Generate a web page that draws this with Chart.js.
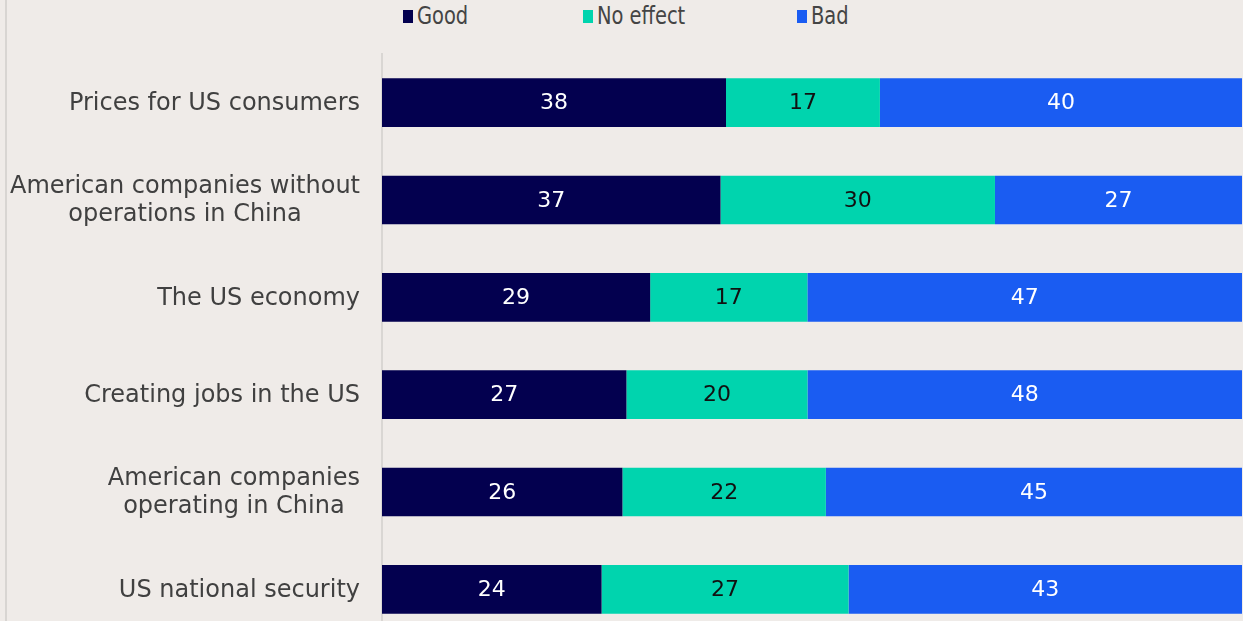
<!DOCTYPE html>
<html>
<head>
<meta charset="utf-8">
<script src="https://cdn.jsdelivr.net/npm/chart.js@4"></script>
<style>
  html, body { margin: 0; padding: 0; background: #efebe8; overflow: hidden; }
  #wrap { position: relative; width: 1243px; height: 638px; }
  #edge { position: absolute; left: 5px; top: 0; width: 2px; height: 638px; background: #d8d5d2; }
  #legend { position: absolute; top: 0; left: 0; width: 1243px; height: 32px; font-family: "Liberation Sans Narrow", "DejaVu Sans Condensed", sans-serif; font-size: 24px; color: #444444; }
  .item { position: absolute; top: 2px; white-space: nowrap; }
  .swatch { position: absolute; left: 0; top: 8px; width: 10px; height: 13px; }
  .name { position: absolute; left: 14px; top: 0; transform: scaleX(0.9); transform-origin: left center; }
  canvas { position: absolute; left: 0; top: 0; }
</style>
</head>
<body>
<div id="wrap">
  <div id="edge"></div>
  <div id="legend"></div>
  <canvas id="tariffChart" width="1243" height="638"></canvas>
</div>
<script>
const categories = [
  ["Prices for US consumers"],
  ["American companies without", "operations in China"],
  ["The US economy"],
  ["Creating jobs in the US"],
  ["American companies", "operating in China"],
  ["US national security"],
];
const good = [38, 37, 29, 27, 26, 24];
const noEffect = [17, 30, 17, 20, 22, 27];
const bad = [40, 27, 47, 48, 45, 43];

const seriesNames = ["Good", "No effect", "Bad"];
const seriesColors = ["#03004f", "#00d4ae", "#1a5cf2"];
const labelColors = ["#ffffff", "#111111", "#ffffff"];
const legendLeft = [403, 583, 797];

// each row is drawn as a share of its own total
const totals = good.map((g, i) => g + noEffect[i] + bad[i]);
const share = (arr) => arr.map((v, i) => (v / totals[i]) * 100);
const raw = [good, noEffect, bad];

const legend = document.getElementById("legend");
seriesNames.forEach((name, i) => {
  const el = document.createElement("div");
  el.className = "item";
  el.style.left = legendLeft[i] + "px";
  el.innerHTML = '<span class="swatch" style="background:' + seriesColors[i] + '"></span><span class="name">' + name + "</span>";
  legend.appendChild(el);
});

const VALUE_FONT = '22px "DejaVu Sans", sans-serif';
const CAT_FONT = '24px "DejaVu Sans", sans-serif';

// values written in the middle of each segment
const valueLabels = {
  id: "valueLabels",
  afterDatasetsDraw(chart) {
    const ctx = chart.ctx;
    ctx.save();
    ctx.font = VALUE_FONT;
    ctx.textAlign = "center";
    ctx.textBaseline = "middle";
    chart.data.datasets.forEach((ds, di) => {
      chart.getDatasetMeta(di).data.forEach((bar, i) => {
        const p = bar.getProps(["x", "y", "base"], true);
        ctx.fillStyle = labelColors[di];
        ctx.fillText(String(raw[di][i]), (p.x + p.base) / 2, p.y + 1);
      });
    });
    ctx.restore();
  },
};

// category names: block right-aligned, lines centred on each other
const categoryLabels = {
  id: "categoryLabels",
  afterDraw(chart) {
    const ctx = chart.ctx;
    const y = chart.scales.y;
    const right = y.right - 22;
    ctx.save();
    ctx.font = CAT_FONT;
    ctx.fillStyle = "#404040";
    ctx.textAlign = "center";
    ctx.textBaseline = "middle";
    categories.forEach((lines, i) => {
      const w = Math.max(...lines.map((l) => ctx.measureText(l).width));
      const cx = right - w / 2;
      const cy = y.getPixelForTick(i) + 1;
      const lh = 28;
      lines.forEach((l, k) => {
        ctx.fillText(l, cx, cy + (k - (lines.length - 1) / 2) * lh);
      });
    });
    ctx.restore();
  },
};

new Chart(document.getElementById("tariffChart"), {
  type: "bar",
  data: {
    labels: categories,
    datasets: [
      { label: seriesNames[0], data: share(good), backgroundColor: seriesColors[0] },
      { label: seriesNames[1], data: share(noEffect), backgroundColor: seriesColors[1] },
      { label: seriesNames[2], data: share(bad), backgroundColor: seriesColors[2] },
    ],
  },
  options: {
    indexAxis: "y",
    responsive: false,
    animation: false,
    layout: { padding: { top: 54, right: 1, bottom: 0, left: 0 } },
    datasets: { bar: { categoryPercentage: 1, barPercentage: 0.5, borderWidth: 0 } },
    plugins: { legend: { display: false }, tooltip: { enabled: false } },
    scales: {
      x: { stacked: true, min: 0, max: 100, display: false },
      y: {
        stacked: true,
        grid: { display: false },
        border: { display: true, color: "#d9d6d3", width: 2 },
        ticks: { display: false },
        afterFit(scale) { scale.width = 382; },
      },
    },
  },
  plugins: [valueLabels, categoryLabels],
});
</script>
</body>
</html>
